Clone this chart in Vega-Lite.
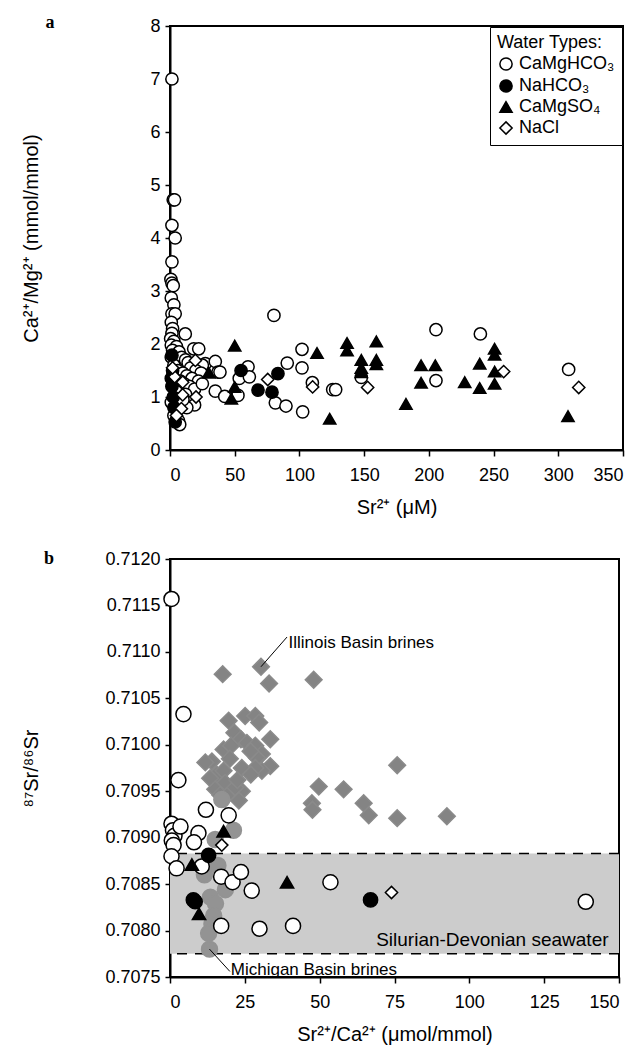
{
  "$schema": "https://vega.github.io/schema/vega-lite/v6.json",
  "background": "white",
  "padding": {"left": 20, "top": 13, "right": 0, "bottom": 4},
  "config": {
    "font": "Liberation Sans",
    "view": {"stroke": "black", "strokeWidth": 2},
    "axis": {"grid": false, "domainColor": "black", "domainWidth": 2, "tickColor": "black", "tickWidth": 1.5, "labelColor": "black", "labelFontSize": 18, "labelFont": "Liberation Sans", "titleFont": "Liberation Sans", "titleFontSize": 20, "titleFontWeight": "normal", "titleColor": "black"},
    "axisX": {"tickSize": 6, "labelPadding": 10, "titlePadding": 13},
    "axisY": {"tickSize": 5, "labelPadding": 5}
  },
  "datasets": {
    "a": [
      {"sr": 1.5, "r": 7.0, "t": "CaMgHCO₃"},
      {"sr": 2.5, "r": 4.72, "t": "CaMgHCO₃"},
      {"sr": 3.5, "r": 4.72, "t": "CaMgHCO₃"},
      {"sr": 1.5, "r": 4.24, "t": "CaMgHCO₃"},
      {"sr": 4, "r": 4.0, "t": "CaMgHCO₃"},
      {"sr": 1.5, "r": 3.55, "t": "CaMgHCO₃"},
      {"sr": 0.7, "r": 3.22, "t": "CaMgHCO₃"},
      {"sr": 1.5, "r": 3.15, "t": "CaMgHCO₃"},
      {"sr": 2.5, "r": 3.1, "t": "CaMgHCO₃"},
      {"sr": 1.0, "r": 2.87, "t": "CaMgHCO₃"},
      {"sr": 3, "r": 2.74, "t": "CaMgHCO₃"},
      {"sr": 1.5, "r": 2.57, "t": "CaMgHCO₃"},
      {"sr": 4, "r": 2.57, "t": "CaMgHCO₃"},
      {"sr": 1.0, "r": 2.41, "t": "CaMgHCO₃"},
      {"sr": 2, "r": 2.29, "t": "CaMgHCO₃"},
      {"sr": 1.5, "r": 2.2, "t": "CaMgHCO₃"},
      {"sr": 11.8, "r": 2.19, "t": "CaMgHCO₃"},
      {"sr": 0.5, "r": 2.1, "t": "CaMgHCO₃"},
      {"sr": 3, "r": 2.05, "t": "CaMgHCO₃"},
      {"sr": 1, "r": 1.98, "t": "CaMgHCO₃"},
      {"sr": 5, "r": 1.95, "t": "CaMgHCO₃"},
      {"sr": 2, "r": 1.88, "t": "CaMgHCO₃"},
      {"sr": 7, "r": 1.85, "t": "CaMgHCO₃"},
      {"sr": 18.3, "r": 1.91, "t": "CaMgHCO₃"},
      {"sr": 22.2, "r": 1.91, "t": "CaMgHCO₃"},
      {"sr": 1, "r": 1.75, "t": "CaMgHCO₃"},
      {"sr": 4, "r": 1.72, "t": "CaMgHCO₃"},
      {"sr": 9, "r": 1.75, "t": "CaMgHCO₃"},
      {"sr": 12, "r": 1.7, "t": "CaMgHCO₃"},
      {"sr": 14, "r": 1.65, "t": "CaMgHCO₃"},
      {"sr": 27.3, "r": 1.63, "t": "CaMgHCO₃"},
      {"sr": 35, "r": 1.67, "t": "CaMgHCO₃"},
      {"sr": 25, "r": 1.6, "t": "CaMgHCO₃"},
      {"sr": 16, "r": 1.55, "t": "CaMgHCO₃"},
      {"sr": 20, "r": 1.5, "t": "CaMgHCO₃"},
      {"sr": 3, "r": 1.6, "t": "CaMgHCO₃"},
      {"sr": 6, "r": 1.5, "t": "CaMgHCO₃"},
      {"sr": 10, "r": 1.45, "t": "CaMgHCO₃"},
      {"sr": 13, "r": 1.4, "t": "CaMgHCO₃"},
      {"sr": 37.1, "r": 1.47, "t": "CaMgHCO₃"},
      {"sr": 38.6, "r": 1.47, "t": "CaMgHCO₃"},
      {"sr": 24, "r": 1.45, "t": "CaMgHCO₃"},
      {"sr": 17, "r": 1.35, "t": "CaMgHCO₃"},
      {"sr": 22, "r": 1.3, "t": "CaMgHCO₃"},
      {"sr": 8, "r": 1.3, "t": "CaMgHCO₃"},
      {"sr": 11, "r": 1.25, "t": "CaMgHCO₃"},
      {"sr": 15, "r": 1.2, "t": "CaMgHCO₃"},
      {"sr": 19, "r": 1.15, "t": "CaMgHCO₃"},
      {"sr": 25, "r": 1.25, "t": "CaMgHCO₃"},
      {"sr": 2, "r": 1.2, "t": "CaMgHCO₃"},
      {"sr": 5, "r": 1.1, "t": "CaMgHCO₃"},
      {"sr": 12, "r": 1.05, "t": "CaMgHCO₃"},
      {"sr": 16, "r": 0.9, "t": "CaMgHCO₃"},
      {"sr": 19, "r": 0.85, "t": "CaMgHCO₃"},
      {"sr": 13, "r": 0.8, "t": "CaMgHCO₃"},
      {"sr": 10, "r": 0.95, "t": "CaMgHCO₃"},
      {"sr": 35, "r": 1.11, "t": "CaMgHCO₃"},
      {"sr": 42.3, "r": 1.01, "t": "CaMgHCO₃"},
      {"sr": 52.5, "r": 1.03, "t": "CaMgHCO₃"},
      {"sr": 53.5, "r": 1.35, "t": "CaMgHCO₃"},
      {"sr": 60.3, "r": 1.57, "t": "CaMgHCO₃"},
      {"sr": 61.3, "r": 1.38, "t": "CaMgHCO₃"},
      {"sr": 81.4, "r": 0.89, "t": "CaMgHCO₃"},
      {"sr": 89.6, "r": 0.83, "t": "CaMgHCO₃"},
      {"sr": 90.6, "r": 1.64, "t": "CaMgHCO₃"},
      {"sr": 80.3, "r": 2.54, "t": "CaMgHCO₃"},
      {"sr": 102, "r": 1.9, "t": "CaMgHCO₃"},
      {"sr": 102, "r": 1.55, "t": "CaMgHCO₃"},
      {"sr": 102.5, "r": 0.72, "t": "CaMgHCO₃"},
      {"sr": 110, "r": 1.27, "t": "CaMgHCO₃"},
      {"sr": 125.7, "r": 1.14, "t": "CaMgHCO₃"},
      {"sr": 128, "r": 1.14, "t": "CaMgHCO₃"},
      {"sr": 205.5, "r": 2.27, "t": "CaMgHCO₃"},
      {"sr": 205.5, "r": 1.31, "t": "CaMgHCO₃"},
      {"sr": 239.8, "r": 2.19, "t": "CaMgHCO₃"},
      {"sr": 308, "r": 1.52, "t": "CaMgHCO₃"},
      {"sr": 147.8, "r": 1.37, "t": "CaMgHCO₃"},
      {"sr": 6.6, "r": 0.55, "t": "CaMgHCO₃"},
      {"sr": 7.5, "r": 0.48, "t": "CaMgHCO₃"},
      {"sr": 3, "r": 0.65, "t": "CaMgHCO₃"},
      {"sr": 1, "r": 0.9, "t": "CaMgHCO₃"},
      {"sr": 2, "r": 1.4, "t": "CaMgHCO₃"},
      {"sr": 1.5, "r": 1.79, "t": "NaHCO₃"},
      {"sr": 2, "r": 1.5, "t": "NaHCO₃"},
      {"sr": 1.5, "r": 1.2, "t": "NaHCO₃"},
      {"sr": 2.5, "r": 1.0, "t": "NaHCO₃"},
      {"sr": 3, "r": 0.8, "t": "NaHCO₃"},
      {"sr": 4, "r": 0.53, "t": "NaHCO₃"},
      {"sr": 54.9, "r": 1.5, "t": "NaHCO₃"},
      {"sr": 68, "r": 1.13, "t": "NaHCO₃"},
      {"sr": 78.8, "r": 1.09, "t": "NaHCO₃"},
      {"sr": 83.4, "r": 1.44, "t": "NaHCO₃"},
      {"sr": 1, "r": 1.35, "t": "NaHCO₃"},
      {"sr": 50, "r": 1.97, "t": "CaMgSO₄"},
      {"sr": 50, "r": 1.19, "t": "CaMgSO₄"},
      {"sr": 47.4, "r": 0.97, "t": "CaMgSO₄"},
      {"sr": 29.9, "r": 1.46, "t": "CaMgSO₄"},
      {"sr": 113.6, "r": 1.83, "t": "CaMgSO₄"},
      {"sr": 123.4, "r": 0.59, "t": "CaMgSO₄"},
      {"sr": 136.8, "r": 2.02, "t": "CaMgSO₄"},
      {"sr": 136.8, "r": 1.88, "t": "CaMgSO₄"},
      {"sr": 147.8, "r": 1.7, "t": "CaMgSO₄"},
      {"sr": 147.8, "r": 1.55, "t": "CaMgSO₄"},
      {"sr": 147.8, "r": 1.47, "t": "CaMgSO₄"},
      {"sr": 159.4, "r": 2.05, "t": "CaMgSO₄"},
      {"sr": 159.4, "r": 1.7, "t": "CaMgSO₄"},
      {"sr": 159.4, "r": 1.62, "t": "CaMgSO₄"},
      {"sr": 182.3, "r": 0.87, "t": "CaMgSO₄"},
      {"sr": 194, "r": 1.6, "t": "CaMgSO₄"},
      {"sr": 205, "r": 1.6, "t": "CaMgSO₄"},
      {"sr": 194, "r": 1.27, "t": "CaMgSO₄"},
      {"sr": 227.7, "r": 1.28, "t": "CaMgSO₄"},
      {"sr": 239.3, "r": 1.63, "t": "CaMgSO₄"},
      {"sr": 239.3, "r": 1.17, "t": "CaMgSO₄"},
      {"sr": 250.8, "r": 1.91, "t": "CaMgSO₄"},
      {"sr": 250.8, "r": 1.8, "t": "CaMgSO₄"},
      {"sr": 250.8, "r": 1.48, "t": "CaMgSO₄"},
      {"sr": 250.8, "r": 1.25, "t": "CaMgSO₄"},
      {"sr": 307.5, "r": 0.64, "t": "CaMgSO₄"},
      {"sr": 3.6, "r": 1.38, "t": "NaCl"},
      {"sr": 9.8, "r": 1.28, "t": "NaCl"},
      {"sr": 9.8, "r": 1.04, "t": "NaCl"},
      {"sr": 8.8, "r": 0.78, "t": "NaCl"},
      {"sr": 19.6, "r": 1.69, "t": "NaCl"},
      {"sr": 20.1, "r": 1.0, "t": "NaCl"},
      {"sr": 75.5, "r": 1.33, "t": "NaCl"},
      {"sr": 110.2, "r": 1.19, "t": "NaCl"},
      {"sr": 152.7, "r": 1.18, "t": "NaCl"},
      {"sr": 257.8, "r": 1.48, "t": "NaCl"},
      {"sr": 315.8, "r": 1.18, "t": "NaCl"},
      {"sr": 2, "r": 1.55, "t": "NaCl"},
      {"sr": 5, "r": 0.65, "t": "NaCl"}
    ],
    "b": [
      {"x": 17.6, "y": 0.71076, "t": "Illinois"},
      {"x": 30.4, "y": 0.71084, "t": "Illinois"},
      {"x": 33.1, "y": 0.71066, "t": "Illinois"},
      {"x": 48.0, "y": 0.7107, "t": "Illinois"},
      {"x": 19.6, "y": 0.71026, "t": "Illinois"},
      {"x": 25.1, "y": 0.71031, "t": "Illinois"},
      {"x": 28.5, "y": 0.71031, "t": "Illinois"},
      {"x": 29.8, "y": 0.71024, "t": "Illinois"},
      {"x": 33.5, "y": 0.71006, "t": "Illinois"},
      {"x": 21.5, "y": 0.71013, "t": "Illinois"},
      {"x": 23.7, "y": 0.71006, "t": "Illinois"},
      {"x": 25.7, "y": 0.71002, "t": "Illinois"},
      {"x": 17.9, "y": 0.70995, "t": "Illinois"},
      {"x": 20.4, "y": 0.70999, "t": "Illinois"},
      {"x": 28.5, "y": 0.70999, "t": "Illinois"},
      {"x": 30.7, "y": 0.7099, "t": "Illinois"},
      {"x": 29.0, "y": 0.70986, "t": "Illinois"},
      {"x": 26.9, "y": 0.70993, "t": "Illinois"},
      {"x": 33.5, "y": 0.70977, "t": "Illinois"},
      {"x": 30.7, "y": 0.70972, "t": "Illinois"},
      {"x": 28.5, "y": 0.70975, "t": "Illinois"},
      {"x": 14.0, "y": 0.70982, "t": "Illinois"},
      {"x": 11.8, "y": 0.70981, "t": "Illinois"},
      {"x": 15.6, "y": 0.70968, "t": "Illinois"},
      {"x": 17.9, "y": 0.70972, "t": "Illinois"},
      {"x": 13.4, "y": 0.70964, "t": "Illinois"},
      {"x": 18.4, "y": 0.70959, "t": "Illinois"},
      {"x": 24.0, "y": 0.7095, "t": "Illinois"},
      {"x": 21.8, "y": 0.70954, "t": "Illinois"},
      {"x": 15.1, "y": 0.70952, "t": "Illinois"},
      {"x": 16.8, "y": 0.70946, "t": "Illinois"},
      {"x": 22.5, "y": 0.70962, "t": "Illinois"},
      {"x": 20, "y": 0.70985, "t": "Illinois"},
      {"x": 24, "y": 0.70975, "t": "Illinois"},
      {"x": 27, "y": 0.70968, "t": "Illinois"},
      {"x": 19, "y": 0.70945, "t": "Illinois"},
      {"x": 23, "y": 0.7094, "t": "Illinois"},
      {"x": 49.7, "y": 0.70955, "t": "Illinois"},
      {"x": 58.0, "y": 0.70952, "t": "Illinois"},
      {"x": 75.9, "y": 0.70978, "t": "Illinois"},
      {"x": 47.4, "y": 0.70937, "t": "Illinois"},
      {"x": 47.6, "y": 0.7093, "t": "Illinois"},
      {"x": 64.7, "y": 0.70937, "t": "Illinois"},
      {"x": 66.4, "y": 0.70924, "t": "Illinois"},
      {"x": 75.9, "y": 0.70921, "t": "Illinois"},
      {"x": 92.5, "y": 0.70923, "t": "Illinois"},
      {"x": 13.5, "y": 0.70836, "t": "Michigan"},
      {"x": 15.2, "y": 0.70829, "t": "Michigan"},
      {"x": 14.6, "y": 0.70816, "t": "Michigan"},
      {"x": 14.0, "y": 0.70807, "t": "Michigan"},
      {"x": 12.9, "y": 0.70797, "t": "Michigan"},
      {"x": 13.2, "y": 0.7078, "t": "Michigan"},
      {"x": 18.5, "y": 0.70844, "t": "Michigan"},
      {"x": 15.1, "y": 0.70898, "t": "Michigan"},
      {"x": 21.2, "y": 0.70908, "t": "Michigan"},
      {"x": 17.3, "y": 0.70941, "t": "Michigan"},
      {"x": 12.9, "y": 0.70875, "t": "Michigan"},
      {"x": 11.5, "y": 0.7086, "t": "Michigan"},
      {"x": 16, "y": 0.7087, "t": "Michigan"},
      {"x": 0.5, "y": 0.71157, "t": "CaMgHCO₃"},
      {"x": 4.5, "y": 0.71033, "t": "CaMgHCO₃"},
      {"x": 2.8, "y": 0.70962, "t": "CaMgHCO₃"},
      {"x": 12, "y": 0.7093, "t": "CaMgHCO₃"},
      {"x": 0.5, "y": 0.70915, "t": "CaMgHCO₃"},
      {"x": 1.0, "y": 0.70908, "t": "CaMgHCO₃"},
      {"x": 1.5, "y": 0.70902, "t": "CaMgHCO₃"},
      {"x": 0.6, "y": 0.70897, "t": "CaMgHCO₃"},
      {"x": 1.2, "y": 0.70892, "t": "CaMgHCO₃"},
      {"x": 3.5, "y": 0.70912, "t": "CaMgHCO₃"},
      {"x": 9.5, "y": 0.70905, "t": "CaMgHCO₃"},
      {"x": 8.0, "y": 0.70895, "t": "CaMgHCO₃"},
      {"x": 0.5, "y": 0.7088, "t": "CaMgHCO₃"},
      {"x": 2.2, "y": 0.70867, "t": "CaMgHCO₃"},
      {"x": 10.6, "y": 0.70869, "t": "CaMgHCO₃"},
      {"x": 19.6, "y": 0.70924, "t": "CaMgHCO₃"},
      {"x": 17.1, "y": 0.70858, "t": "CaMgHCO₃"},
      {"x": 20.9, "y": 0.70852, "t": "CaMgHCO₃"},
      {"x": 23.7, "y": 0.70863, "t": "CaMgHCO₃"},
      {"x": 27.3, "y": 0.70843, "t": "CaMgHCO₃"},
      {"x": 53.6, "y": 0.70852, "t": "CaMgHCO₃"},
      {"x": 17.1, "y": 0.70805, "t": "CaMgHCO₃"},
      {"x": 29.9, "y": 0.70802, "t": "CaMgHCO₃"},
      {"x": 41.1, "y": 0.70805, "t": "CaMgHCO₃"},
      {"x": 138.9, "y": 0.70831, "t": "CaMgHCO₃"},
      {"x": 12.9, "y": 0.70881, "t": "NaHCO₃"},
      {"x": 7.8, "y": 0.70833, "t": "NaHCO₃"},
      {"x": 8.4, "y": 0.70831, "t": "NaHCO₃"},
      {"x": 67.0, "y": 0.70833, "t": "NaHCO₃"},
      {"x": 7.3, "y": 0.70871, "t": "CaMgSO₄"},
      {"x": 17.9, "y": 0.70907, "t": "CaMgSO₄"},
      {"x": 9.7, "y": 0.70818, "t": "CaMgSO₄"},
      {"x": 39.1, "y": 0.70852, "t": "CaMgSO₄"},
      {"x": 17.3, "y": 0.70892, "t": "NaCl"},
      {"x": 74.0, "y": 0.70841, "t": "NaCl"}
    ],
    "band": [{"y": 0.70775, "y2": 0.70883}],
    "bandLines": [{"y": 0.70775}, {"y": 0.70883}],
    "leaders": [
      {"x": 30.4, "y": 0.71084, "x2": 39.1, "y2": 0.71116},
      {"x": 13.2, "y": 0.7078, "x2": 20.0, "y2": 0.70756}
    ],
    "labelsLeft": [
      {"x": 39.6, "y": 0.7111, "text": "Illinois Basin brines"},
      {"x": 20.3, "y": 0.70758, "text": "Michigan Basin brines"}
    ],
    "labelsRight": [
      {"x": 146.5, "y": 0.7079, "text": "Silurian-Devonian seawater"}
    ]
  },
  "resolve": {
    "scale": {"x": "independent", "y": "independent", "shape": "independent", "fill": "independent", "stroke": "independent", "size": "independent"},
    "legend": {"shape": "independent", "fill": "independent", "stroke": "independent", "size": "independent"}
  },
  "spacing": 31,
  "vconcat": [
    {
      "width": 453,
      "height": 424,
      "title": {"text": "a", "orient": "left", "anchor": "end", "frame": "group", "angle": 0, "align": "center", "baseline": "middle", "dy": -3, "offset": -37, "fontSize": 18, "font": "Liberation Serif", "fontWeight": "bold", "color": "black"},
      "data": {"name": "a"},
      "mark": {"type": "point", "filled": true, "strokeWidth": 1.5, "opacity": 1},
      "encoding": {
        "x": {"field": "sr", "type": "quantitative", "scale": {"domain": [0, 350], "nice": false}, "axis": {"values": [0, 50, 100, 150, 200, 250, 300, 350], "title": "Sr²⁺ (μM)"}},
        "y": {"field": "r", "type": "quantitative", "scale": {"domain": [0, 8], "nice": false}, "axis": {"values": [0, 1, 2, 3, 4, 5, 6, 7, 8], "title": "Ca²⁺/Mg²⁺ (mmol/mmol)", "titlePadding": 108}},
        "shape": {"field": "t", "type": "nominal", "scale": {"domain": ["CaMgHCO₃", "NaHCO₃", "CaMgSO₄", "NaCl"], "range": ["circle", "circle", "triangle-up", "diamond"]},
          "legend": {"title": "Water Types:", "orient": "top-right", "offset": 1, "strokeColor": "black", "fillColor": "white", "padding": 7, "titleFontSize": 18, "titleFontWeight": "normal", "titleColor": "black", "labelFontSize": 18, "labelColor": "black", "symbolStrokeWidth": 1.5, "rowPadding": 2, "titlePadding": 3, "labelOffset": 4}},
        "fill": {"field": "t", "type": "nominal", "scale": {"domain": ["CaMgHCO₃", "NaHCO₃", "CaMgSO₄", "NaCl"], "range": ["white", "black", "black", "white"]},
          "legend": {"title": "Water Types:", "orient": "top-right", "offset": 1, "strokeColor": "black", "fillColor": "white", "padding": 7, "titleFontSize": 18, "titleFontWeight": "normal", "titleColor": "black", "labelFontSize": 18, "labelColor": "black", "symbolStrokeWidth": 1.5, "rowPadding": 2, "titlePadding": 3, "labelOffset": 4}},
        "stroke": {"field": "t", "type": "nominal", "scale": {"domain": ["CaMgHCO₃", "NaHCO₃", "CaMgSO₄", "NaCl"], "range": ["black", "black", "black", "black"]},
          "legend": {"title": "Water Types:", "orient": "top-right", "offset": 1, "strokeColor": "black", "fillColor": "white", "padding": 7, "titleFontSize": 18, "titleFontWeight": "normal", "titleColor": "black", "labelFontSize": 18, "labelColor": "black", "symbolStrokeWidth": 1.5, "rowPadding": 2, "titlePadding": 3, "labelOffset": 4}},
        "size": {"field": "t", "type": "nominal", "scale": {"domain": ["CaMgHCO₃", "NaHCO₃", "CaMgSO₄", "NaCl"], "range": [150, 150, 200, 150]},
          "legend": {"title": "Water Types:", "orient": "top-right", "offset": 1, "strokeColor": "black", "fillColor": "white", "padding": 7, "titleFontSize": 18, "titleFontWeight": "normal", "titleColor": "black", "labelFontSize": 18, "labelColor": "black", "symbolStrokeWidth": 1.5, "rowPadding": 2, "titlePadding": 3, "labelOffset": 4}}
      }
    },
    {
      "width": 449,
      "height": 418,
      "title": {"text": "b", "orient": "left", "anchor": "end", "frame": "group", "angle": 0, "align": "center", "baseline": "middle", "dy": 0, "offset": -37, "fontSize": 18, "font": "Liberation Serif", "fontWeight": "bold", "color": "black"},
      "layer": [
        {
          "data": {"name": "band"},
          "mark": {"type": "rect", "color": "#cccccc"},
          "encoding": {
            "y": {"field": "y", "type": "quantitative", "title": "⁸⁷Sr/⁸⁶Sr"},
            "y2": {"field": "y2"}
          }
        },
        {
          "data": {"name": "bandLines"},
          "mark": {"type": "rule", "color": "black", "strokeWidth": 1.5, "strokeDash": [10, 8]},
          "encoding": {
            "y": {"field": "y", "type": "quantitative", "title": "⁸⁷Sr/⁸⁶Sr"}
          }
        },
        {
          "data": {"name": "b"},
          "mark": {"type": "point", "filled": true, "strokeWidth": 1.5, "opacity": 1},
          "encoding": {
            "x": {"field": "x", "type": "quantitative", "scale": {"domain": [0, 150], "nice": false}, "axis": {"values": [0, 25, 50, 75, 100, 125, 150], "title": "Sr²⁺/Ca²⁺ (μmol/mmol)"}},
            "y": {"field": "y", "type": "quantitative", "scale": {"domain": [0.7075, 0.712], "nice": false, "zero": false}, "axis": {"values": [0.7075, 0.708, 0.7085, 0.709, 0.7095, 0.71, 0.7105, 0.711, 0.7115, 0.712], "format": ".4f", "title": "⁸⁷Sr/⁸⁶Sr", "titlePadding": 63}},
            "shape": {"field": "t", "type": "nominal", "legend": null, "scale": {"domain": ["Illinois", "Michigan", "CaMgHCO₃", "NaHCO₃", "CaMgSO₄", "NaCl"], "range": ["diamond", "circle", "circle", "circle", "triangle-up", "diamond"]}},
            "fill": {"field": "t", "type": "nominal", "legend": null, "scale": {"domain": ["Illinois", "Michigan", "CaMgHCO₃", "NaHCO₃", "CaMgSO₄", "NaCl"], "range": ["#848484", "#939393", "white", "black", "black", "white"]}},
            "stroke": {"field": "t", "type": "nominal", "legend": null, "scale": {"domain": ["Illinois", "Michigan", "CaMgHCO₃", "NaHCO₃", "CaMgSO₄", "NaCl"], "range": ["#8a8a8a", "#939393", "black", "black", "black", "black"]}},
            "size": {"field": "t", "type": "nominal", "legend": null, "scale": {"domain": ["Illinois", "Michigan", "CaMgHCO₃", "NaHCO₃", "CaMgSO₄", "NaCl"], "range": [280, 150, 160, 160, 190, 150]}}
          }
        },
        {
          "data": {"name": "leaders"},
          "mark": {"type": "rule", "color": "black", "strokeWidth": 1},
          "encoding": {
            "x": {"field": "x", "type": "quantitative", "title": "Sr²⁺/Ca²⁺ (μmol/mmol)"},
            "y": {"field": "y", "type": "quantitative", "title": "⁸⁷Sr/⁸⁶Sr"},
            "x2": {"field": "x2"},
            "y2": {"field": "y2"}
          }
        },
        {
          "data": {"name": "labelsLeft"},
          "mark": {"type": "text", "baseline": "middle", "align": "left", "fontSize": 17, "color": "black", "font": "Liberation Sans"},
          "encoding": {
            "x": {"field": "x", "type": "quantitative", "title": "Sr²⁺/Ca²⁺ (μmol/mmol)"},
            "y": {"field": "y", "type": "quantitative", "title": "⁸⁷Sr/⁸⁶Sr"},
            "text": {"field": "text"}
          }
        },
        {
          "data": {"name": "labelsRight"},
          "mark": {"type": "text", "baseline": "middle", "align": "right", "fontSize": 19, "color": "black", "font": "Liberation Sans"},
          "encoding": {
            "x": {"field": "x", "type": "quantitative", "title": "Sr²⁺/Ca²⁺ (μmol/mmol)"},
            "y": {"field": "y", "type": "quantitative", "title": "⁸⁷Sr/⁸⁶Sr"},
            "text": {"field": "text"}
          }
        }
      ]
    }
  ]
}
